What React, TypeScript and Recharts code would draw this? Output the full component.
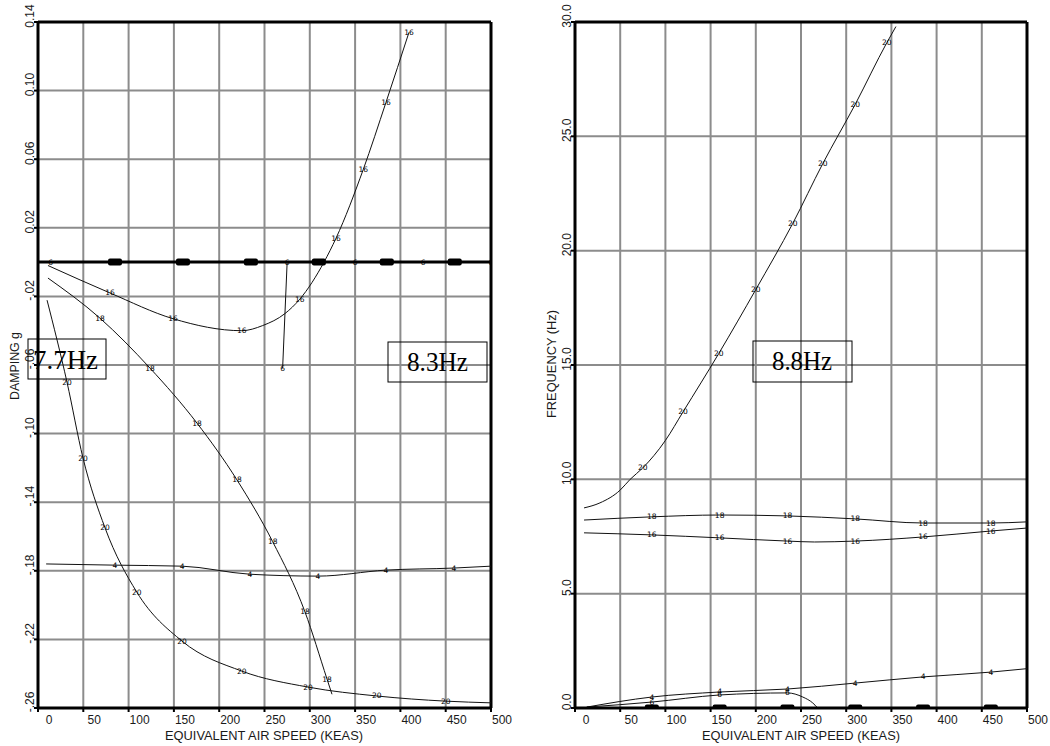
import React from 'react';
import {
  ComposedChart,
  Line,
  Scatter,
  XAxis,
  YAxis,
  CartesianGrid,
  ReferenceLine,
} from 'recharts';

// speed axis (KEAS), shared by both plots
const speedTicks = [0, 50, 100, 150, 200, 250, 300, 350, 400, 450, 500];

// damping axis
const dampTicks = [-0.26, -0.22, -0.18, -0.14, -0.1, -0.06, -0.02, 0.02, 0.06, 0.1, 0.14];
const dampTickLabels = ['-.26', '-.22', '-.18', '-.14', '-.10', '-.06', '-.02', '0.02', '0.06', '0.10', '0.14'];

// frequency axis
const freqTicks = [0, 5, 10, 15, 20, 25, 30];
const freqTickLabels = ['0.0', '5.0', '10.0', '15.0', '20.0', '25.0', '30.0'];

// [speed, value, labelled]
const damp16 = [
  [11, -0.002, 0], [79.5, -0.018, 1], [149, -0.033, 1], [225, -0.04, 1], [248, -0.037, 0],
  [272.6, -0.03, 0], [289, -0.0216, 1], [315.7, 0, 0], [329, 0.014, 1], [359, 0.054, 1],
  [384, 0.093, 1], [409.5, 0.134, 1],
];
const damp18 = [
  [11, -0.0093, 0], [68.4, -0.0327, 1], [123.6, -0.0618, 1], [175.5, -0.0939, 1], [219.6, -0.127, 1],
  [259, -0.163, 1], [294.7, -0.204, 1], [319, -0.2431, 1], [324.5, -0.252, 0],
];
const damp20 = [
  [10, -0.0222, 0], [32, -0.07, 1], [49.7, -0.1143, 1], [74, -0.155, 1], [109, -0.1924, 1],
  [159, -0.221, 1], [225, -0.2385, 1], [298, -0.2478, 1], [374, -0.253, 1], [450, -0.256, 1],
  [500, -0.257, 0],
];
const damp4 = [
  [9, -0.176, 0], [85, -0.1767, 1], [159, -0.1773, 1], [234, -0.182, 1], [309, -0.1831, 1],
  [384, -0.1796, 1], [459, -0.1784, 1], [500, -0.1773, 0],
];
const damp6 = [[270, -0.062, 1], [275, 0, 0]];
const dampZeroBars = [85, 160, 235, 310, 385, 460];
const dampZeroSix = [14, 275, 350, 425, 500];

const freq20 = [
  [10, 8.75, 0], [27.6, 8.97, 0], [50, 9.53, 0], [61, 10.0, 0], [75, 10.5, 1], [100, 11.7, 0],
  [119.5, 12.95, 1], [159, 15.5, 1], [200, 18.3, 1], [241, 21.2, 1], [274, 23.8, 1], [310, 26.4, 1],
  [345, 29.1, 1], [355, 29.8, 0],
];
const freq18 = [
  [10, 8.22, 0], [85, 8.36, 1], [160, 8.44, 1], [235, 8.4, 1], [310, 8.27, 1], [385, 8.09, 1],
  [460, 8.09, 1], [500, 8.14, 0],
];
const freq16 = [
  [10, 7.66, 0], [85, 7.57, 1], [160, 7.44, 1], [235, 7.3, 1], [265, 7.26, 0], [310, 7.3, 1],
  [385, 7.48, 1], [460, 7.74, 1], [500, 7.87, 0],
];
const freq4 = [
  [13, 0.04, 0], [85, 0.48, 1], [160, 0.7, 1], [235, 0.83, 1], [310, 1.09, 1], [385, 1.36, 1],
  [460, 1.57, 1], [500, 1.72, 0],
];
const freq6 = [
  [13, 0.04, 0], [85, 0.26, 1], [160, 0.57, 1], [235, 0.66, 1], [252, 0.48, 0], [263, 0.22, 0],
  [268, 0.02, 0],
];
const freqZeroBars = [85, 160, 235, 310, 385, 460];

const GRID = '#8c8c8c';
const INK = '#111';
const SANS = '"Liberation Sans", Arial, sans-serif';

type Row = number[];

const pts = (rows: Row[]) => rows.map(([x, y]) => ({ x, y }));
const marks = (rows: Row[], t: string) =>
  rows.filter((r) => r[2]).map(([x, y]) => ({ x, y, t }));

const ModeLabel = (props: any) => {
  const { cx, cy, payload } = props;
  if (cx == null || cy == null) return null;
  return (
    <text x={cx} y={cy} fontSize={7.5} fontFamily="DejaVu Sans" textAnchor="middle" dominantBaseline="central" fill="#000" stroke="none">
      {payload.t}
    </text>
  );
};

const ZeroBar = (props: any) => {
  const { cx, cy } = props;
  if (cx == null || cy == null) return null;
  return <rect x={cx - 7} y={cy - 3.5} width={14} height={7} rx={2} fill="#000" />;
};

const XTick = (props: any) => {
  const { x, y, payload } = props;
  return (
    <text x={x + 11} y={y + 10} textAnchor="middle" fontSize={12} fontFamily={SANS} fill="#1a1a1a">
      {payload.value}
    </text>
  );
};

const makeYTick = (ticks: number[], labels: string[]) => (props: any) => {
  const { x, y, payload } = props;
  const i = ticks.findIndex((t) => Math.abs(t - payload.value) < 1e-6);
  const cx = x - 2;
  const cy = y - 6;
  return (
    <text
      x={cx}
      y={cy}
      transform={`rotate(-90 ${cx} ${cy})`}
      textAnchor="middle"
      dominantBaseline="central"
      fontSize={12}
      fontFamily={SANS}
      fill="#1a1a1a"
    >
      {i >= 0 ? labels[i] : ''}
    </text>
  );
};

const DampTick = makeYTick(dampTicks, dampTickLabels);
const FreqTick = makeYTick(freqTicks, freqTickLabels);

function curve(key: string, rows: Row[], type: 'monotone' | 'linear' = 'monotone') {
  return (
    <Line
      key={key}
      data={pts(rows)}
      dataKey="y"
      type={type}
      stroke={INK}
      strokeWidth={1}
      dot={false}
      activeDot={false}
      isAnimationActive={false}
    />
  );
}

function labels(key: string, rows: Row[], t: string) {
  return (
    <Scatter key={key} data={marks(rows, t)} dataKey="y" shape={ModeLabel} isAnimationActive={false} />
  );
}

function DampingChart() {
  return (
    <ComposedChart width={520} height={746} margin={{ top: 22, right: 29, bottom: 0, left: 8 }}>
      <CartesianGrid stroke={GRID} strokeWidth={2} />
      <XAxis
        type="number"
        dataKey="x"
        domain={[0, 500]}
        ticks={speedTicks}
        allowDataOverflow
        height={38}
        tick={<XTick />}
        tickSize={4}
        tickMargin={2}
        axisLine={{ stroke: '#000', strokeWidth: 3 }}
        tickLine={{ stroke: '#000', strokeWidth: 2 }}
      />
      <YAxis
        type="number"
        dataKey="y"
        domain={[-0.26, 0.14]}
        ticks={dampTicks}
        allowDataOverflow
        width={30}
        tick={<DampTick />}
        tickSize={4}
        tickMargin={2}
        axisLine={{ stroke: '#000', strokeWidth: 3 }}
        tickLine={{ stroke: '#000', strokeWidth: 2 }}
      />
      <ReferenceLine y={0.14} stroke="#000" strokeWidth={3} />
      <ReferenceLine x={500} stroke="#000" strokeWidth={3} />
      <ReferenceLine y={0} stroke="#000" strokeWidth={3} />
      {curve('d16', damp16)}
      {curve('d18', damp18)}
      {curve('d20', damp20)}
      {curve('d4', damp4)}
      {curve('d6', damp6, 'linear')}
      {labels('l16', damp16, '16')}
      {labels('l18', damp18, '18')}
      {labels('l20', damp20, '20')}
      {labels('l4', damp4, '4')}
      {labels('l6', damp6, '6')}
      <Scatter data={dampZeroBars.map((x) => ({ x, y: 0 }))} dataKey="y" shape={ZeroBar} isAnimationActive={false} />
      <Scatter
        data={dampZeroSix.map((x) => ({ x, y: 0, t: '6' }))}
        dataKey="y"
        shape={ModeLabel}
        isAnimationActive={false}
      />
    </ComposedChart>
  );
}

function FrequencyChart() {
  return (
    <ComposedChart width={520} height={746} margin={{ top: 22, right: 23, bottom: 0, left: 15 }}>
      <CartesianGrid stroke={GRID} strokeWidth={2} />
      <XAxis
        type="number"
        dataKey="x"
        domain={[0, 500]}
        ticks={speedTicks}
        allowDataOverflow
        height={38}
        tick={<XTick />}
        tickSize={4}
        tickMargin={2}
        axisLine={{ stroke: '#000', strokeWidth: 3 }}
        tickLine={{ stroke: '#000', strokeWidth: 2 }}
      />
      <YAxis
        type="number"
        dataKey="y"
        domain={[0, 30]}
        ticks={freqTicks}
        allowDataOverflow
        width={30}
        tick={<FreqTick />}
        tickSize={4}
        tickMargin={2}
        axisLine={{ stroke: '#000', strokeWidth: 3 }}
        tickLine={{ stroke: '#000', strokeWidth: 2 }}
      />
      <ReferenceLine y={30} stroke="#000" strokeWidth={3} />
      <ReferenceLine x={500} stroke="#000" strokeWidth={3} />
      {curve('f20', freq20)}
      {curve('f18', freq18)}
      {curve('f16', freq16)}
      {curve('f4', freq4)}
      {curve('f6', freq6)}
      {labels('m20', freq20, '20')}
      {labels('m18', freq18, '18')}
      {labels('m16', freq16, '16')}
      {labels('m4', freq4, '4')}
      {labels('m6', freq6, '6')}
      <Scatter data={freqZeroBars.map((x) => ({ x, y: 0 }))} dataKey="y" shape={ZeroBar} isAnimationActive={false} />
    </ComposedChart>
  );
}

export default function App() {
  return (
    <div style={{ position: 'absolute', left: 0, top: 0, width: 1050, height: 746, background: '#fff', overflow: 'hidden' }}>
      <div style={{ position: 'absolute', left: 0, top: 0 }}>
        <DampingChart />
      </div>
      <div style={{ position: 'absolute', left: 530, top: 0 }}>
        <FrequencyChart />
      </div>
      <svg width={1050} height={746} style={{ position: 'absolute', left: 0, top: 0, pointerEvents: 'none' }}>
        <text
          x={15}
          y={366}
          transform="rotate(-90 15 366)"
          textAnchor="middle"
          dominantBaseline="central"
          fontSize={12.5}
          fontFamily={SANS}
          textLength={68}
          lengthAdjust="spacingAndGlyphs"
          fill="#1a1a1a"
        >
          DAMPING g
        </text>
        <text
          x={552}
          y={364}
          transform="rotate(-90 552 364)"
          textAnchor="middle"
          dominantBaseline="central"
          fontSize={12.5}
          fontFamily={SANS}
          textLength={108}
          lengthAdjust="spacingAndGlyphs"
          fill="#1a1a1a"
        >
          FREQUENCY (Hz)
        </text>
        <text x={264} y={740} textAnchor="middle" fontSize={13} fontFamily={SANS} textLength={198} lengthAdjust="spacingAndGlyphs" fill="#1a1a1a">
          EQUIVALENT AIR SPEED (KEAS)
        </text>
        <text x={801} y={740} textAnchor="middle" fontSize={13} fontFamily={SANS} textLength={198} lengthAdjust="spacingAndGlyphs" fill="#1a1a1a">
          EQUIVALENT AIR SPEED (KEAS)
        </text>

        <rect x={28} y={339} width={78} height={40} fill="none" stroke="#000" strokeWidth={1} />
        <text x={33} y={369} fontSize={28} fontFamily='"Liberation Serif", serif' textLength={65} lengthAdjust="spacingAndGlyphs" fill="#000">
          7.7Hz
        </text>
        <rect x={388} y={342} width={99} height={40} fill="none" stroke="#000" strokeWidth={1} />
        <text x={407} y={371} fontSize={28} fontFamily='"Liberation Serif", serif' textLength={61} lengthAdjust="spacingAndGlyphs" fill="#000">
          8.3Hz
        </text>
        <rect x={753} y={341} width={99} height={41} fill="none" stroke="#000" strokeWidth={1} />
        <text x={772} y={370} fontSize={28} fontFamily='"Liberation Serif", serif' textLength={60} lengthAdjust="spacingAndGlyphs" fill="#000">
          8.8Hz
        </text>
      </svg>
    </div>
  );
}
